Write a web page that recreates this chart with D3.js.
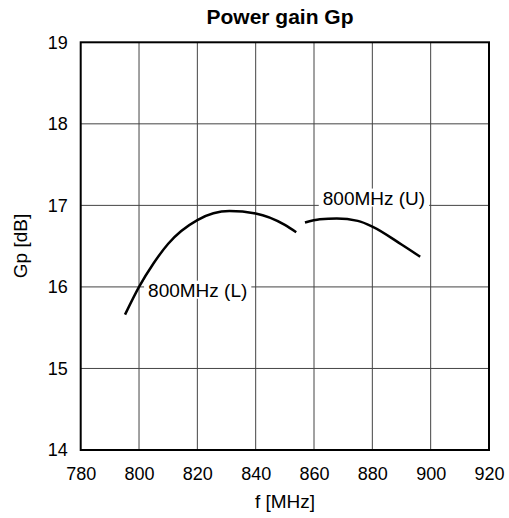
<!DOCTYPE html>
<html><head><meta charset="utf-8">
<script src="https://cdn.jsdelivr.net/npm/d3@7"></script>
<style>body{margin:0;background:#fff}svg{display:block;font-family:"Liberation Sans",Arial,sans-serif}</style>
</head><body><svg id="c" width="509" height="518"></svg>
<script>
const xTicks = [780, 800, 820, 840, 860, 880, 900, 920];
const yTicks = [14, 15, 16, 17, 18, 19];
const seriesNames = ["800MHz (L)", "800MHz (U)"];
const freqL = [795.2, 800, 805, 810, 820, 831, 840, 850, 853.9];
const gainL = [15.66, 16.0, 16.29, 16.53, 16.82, 16.93, 16.90, 16.76, 16.67];
const freqU = [856.9, 862, 867.8, 875, 880, 890, 896.4];
const gainU = [16.79, 16.83, 16.84, 16.81, 16.74, 16.52, 16.37];
const labelF = [803.1, 863.0];
const labelG = [15.88, 17.01];

const svg = d3.select("#c");
const m = {l: 80.7, r: 489, t: 42.3, b: 450};
const x = d3.scaleLinear().domain([780, 920]).range([m.l, m.r]);
const y = d3.scaleLinear().domain([14, 19]).range([m.b, m.t]);

// grid
svg.append("g").selectAll("line").data(xTicks.slice(1, -1)).join("line")
  .attr("x1", d => x(d)).attr("x2", d => x(d)).attr("y1", m.t).attr("y2", m.b)
  .attr("stroke", "#444").attr("stroke-width", 1);
svg.append("g").selectAll("line").data(yTicks.slice(1, -1)).join("line")
  .attr("y1", d => y(d)).attr("y2", d => y(d)).attr("x1", m.l).attr("x2", m.r)
  .attr("stroke", "#444").attr("stroke-width", 1);

// axes tick labels
const xa = svg.append("g").attr("transform", `translate(0,${m.b})`)
  .call(d3.axisBottom(x).tickValues(xTicks).tickSize(0).tickPadding(17).tickFormat(d3.format("d")));
xa.select(".domain").remove();
xa.selectAll("text").attr("font-size", 18).attr("fill", "#000").attr("font-family", "Liberation Sans, Arial, sans-serif");
const ya = svg.append("g").attr("transform", `translate(${m.l},0)`)
  .call(d3.axisLeft(y).tickValues(yTicks).tickSize(0).tickPadding(13).tickFormat(d3.format("d")));
ya.select(".domain").remove();
ya.selectAll("text").attr("font-size", 18).attr("fill", "#000").attr("font-family", "Liberation Sans, Arial, sans-serif");

// curves
const line = d3.line().x(d => x(d[0])).y(d => y(d[1])).curve(d3.curveMonotoneX);
[[freqL, gainL], [freqU, gainU]].forEach(([f, g]) => {
  svg.append("path").datum(f.map((v, i) => [v, g[i]])).attr("d", line)
    .attr("fill", "none").attr("stroke", "#000").attr("stroke-width", 2.5);
});

// labels with white background
seriesNames.forEach((name, i) => {
  const gg = svg.append("g");
  const t = gg.append("text").attr("x", x(labelF[i])).attr("y", y(labelG[i]))
    .attr("font-size", 19).attr("fill", "#000").text(name);
  const bb = t.node().getBBox();
  gg.insert("rect", "text").attr("x", bb.x - 4).attr("y", bb.y + 1)
    .attr("width", bb.width + 8).attr("height", bb.height - 3).attr("fill", "#fff");
});

// frame
svg.append("rect").attr("x", m.l).attr("y", m.t).attr("width", m.r - m.l).attr("height", m.b - m.t)
  .attr("fill", "none").attr("stroke", "#000").attr("stroke-width", 2);

// titles
svg.append("text").attr("x", 280).attr("y", 23.5).attr("text-anchor", "middle")
  .attr("font-size", 21).attr("font-weight", "bold").text("Power gain Gp");
svg.append("text").attr("x", 285).attr("y", 507.5).attr("text-anchor", "middle")
  .attr("font-size", 19).text("f [MHz]");
svg.append("text").attr("transform", "translate(26.5,246) rotate(-90)").attr("text-anchor", "middle")
  .attr("font-size", 19).text("Gp [dB]");
</script></body></html>
